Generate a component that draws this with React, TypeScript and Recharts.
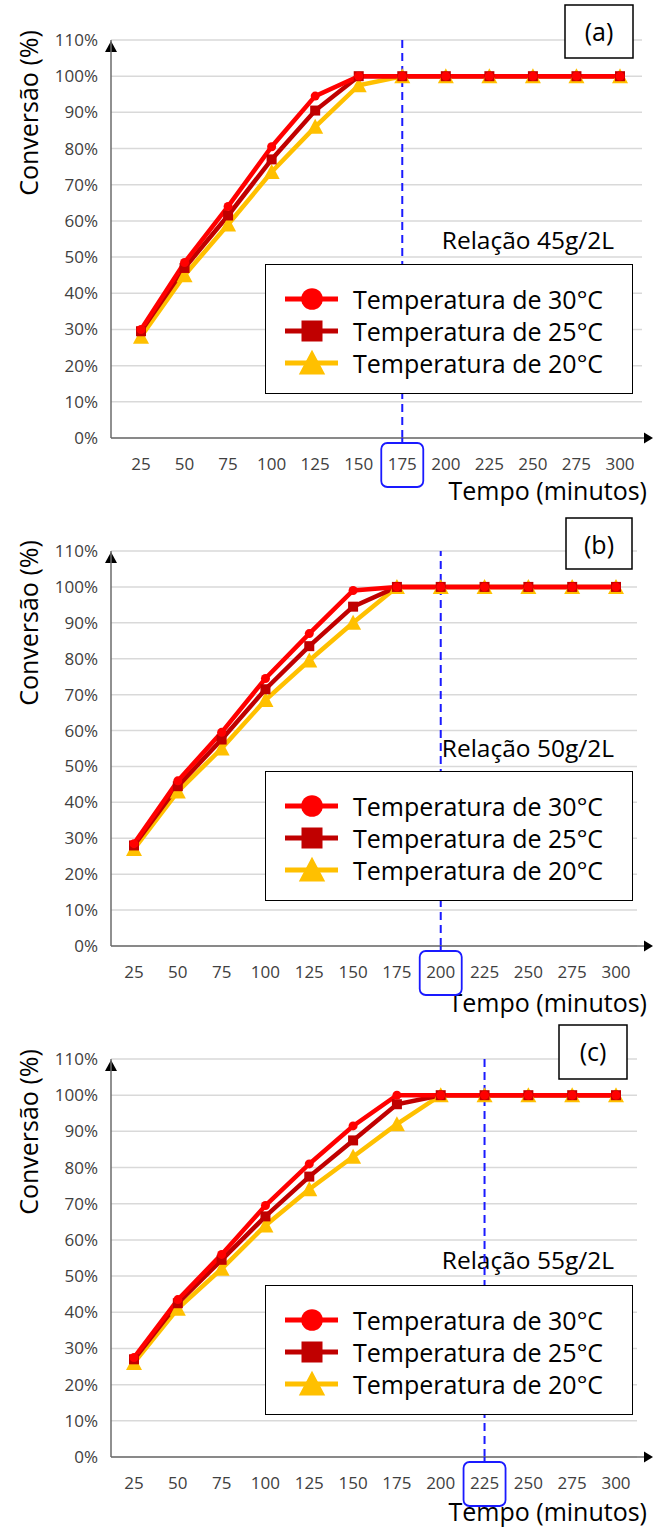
import {
  CartesianGrid,
  Customized,
  Legend,
  Line,
  LineChart,
  ReferenceLine,
  XAxis,
  YAxis,
} from "recharts";

const FONT = '"Open Sans", sans-serif';

// tempo (minutos)
const minutes = [25, 50, 75, 100, 125, 150, 175, 200, 225, 250, 275, 300];
const pctTicks = [0, 10, 20, 30, 40, 50, 60, 70, 80, 90, 100, 110];

// (a) relação 45g/2L
const a30 = [30, 48.5, 64, 80.5, 94.5, 100, 100, 100, 100, 100, 100, 100];
const a25 = [29.5, 47, 61.5, 77, 90.5, 100, 100, 100, 100, 100, 100, 100];
const a20 = [28, 45, 59, 73.5, 86, 97.5, 100, 100, 100, 100, 100, 100];

// (b) relação 50g/2L
const b30 = [28.5, 46, 59.5, 74.5, 87, 99, 100, 100, 100, 100, 100, 100];
const b25 = [28, 44.5, 57.5, 71.5, 83.5, 94.5, 100, 100, 100, 100, 100, 100];
const b20 = [27, 43, 55, 68.5, 79.5, 90, 100, 100, 100, 100, 100, 100];

// (c) relação 55g/2L
const c30 = [27.5, 43.5, 56, 69.5, 81, 91.5, 100, 100, 100, 100, 100, 100];
const c25 = [27, 42.5, 54.5, 66.5, 77.5, 87.5, 97.5, 100, 100, 100, 100, 100];
const c20 = [26, 41, 52, 64, 74, 83, 92, 100, 100, 100, 100, 100];

const RED = "#FF0000";
const DARK = "#C00000";
const GOLD = "#FFC000";
const BLUE = "#1a1aff";

const legendItems = [
  { name: "Temperatura de 30°C", color: RED, shape: "circle", s: 2.4 },
  { name: "Temperatura de 25°C", color: DARK, shape: "square", s: 2.1 },
  { name: "Temperatura de 20°C", color: GOLD, shape: "triangle", s: 1.65 },
];

const build = (s30: number[], s25: number[], s20: number[]) =>
  minutes.map((t, i) => ({ t, t30: s30[i], t25: s25[i], t20: s20[i] }));

const panels = [
  {
    tag: "(a)", ratio: "Relação 45g/2L", highlight: 175, data: build(a30, a25, a20),
    top: 0, mt: 40, xh: 71, right: 11, pad: { left: 30, right: 22 },
    box: { x: 565, y: 5, w: 68, h: 53 }, ratioY: 249, xTitleY: 500, legendTop: 264,
  },
  {
    tag: "(b)", ratio: "Relação 50g/2L", highlight: 200, data: build(b30, b25, b20),
    top: 510, mt: 41, xh: 73, right: 16, pad: { left: 23, right: 21 },
    box: { x: 566, y: 8, w: 66, h: 51 }, ratioY: 247, xTitleY: 502, legendTop: 261,
  },
  {
    tag: "(c)", ratio: "Relação 55g/2L", highlight: 225, data: build(c30, c25, c20),
    top: 1019, mt: 40, xh: 71, right: 16, pad: { left: 23, right: 21 },
    box: { x: 559, y: 6, w: 68, h: 54 }, ratioY: 250, xTitleY: 502, legendTop: 266,
  },
];

const Marker = ({ shape, cx, cy, s }: any) => {
  if (shape === "circle") return <circle cx={cx} cy={cy} r={4.5 * s} fill={RED} />;
  if (shape === "square")
    return <rect x={cx - 5 * s} y={cy - 5 * s} width={10 * s} height={10 * s} fill={DARK} />;
  return (
    <polygon
      points={`${cx},${cy - 8 * s} ${cx + 8 * s},${cy + 7 * s} ${cx - 8 * s},${cy + 7 * s}`}
      fill={GOLD}
    />
  );
};

const dotFor = (shape: string) => (p: any) => (
  <Marker key={`${shape}-${p.index}`} shape={shape} cx={p.cx} cy={p.cy} s={1} />
);

const XTick = (props: any) => {
  const { x, y, payload, highlight } = props;
  const hot = payload.value === highlight;
  return (
    <g>
      {hot && (
        <>
          <line x1={x} y1={y} x2={x} y2={y + 6} stroke={BLUE} strokeWidth={2} />
          <rect x={x - 21} y={y + 5} width={42} height={44} rx={6} fill="none" stroke={BLUE} strokeWidth={1.8} />
        </>
      )}
      <text x={x} y={y + 25} textAnchor="middle" dominantBaseline="central" fontSize={17} fill="#404040" fontFamily={FONT}>
        {payload.value}
      </text>
    </g>
  );
};

const LegendBox = () => (
  <div
    style={{
      width: 368, height: 130, boxSizing: "border-box", border: "1.5px solid #000",
      background: "#fff", paddingTop: 18, fontFamily: FONT, fontSize: 25, color: "#000",
    }}
  >
    {legendItems.map((it) => (
      <div key={it.name} style={{ display: "flex", alignItems: "center", height: 32 }}>
        <svg width={87} height={30} style={{ flex: "none" }}>
          <line x1={19} y1={15} x2={72} y2={15} stroke={it.color} strokeWidth={5} />
          <Marker shape={it.shape} cx={46} cy={15} s={it.s} />
        </svg>
        <span style={{ lineHeight: 1, whiteSpace: "nowrap" }}>{it.name}</span>
      </div>
    ))}
  </div>
);

const Decor = ({ p }: any) => {
  const left = 111;
  const top = p.mt;
  const bottom = 509 - p.xh;
  const right = 653 - p.right;
  return (
    <g fontFamily={FONT} fill="#000">
      <polygon points={`${left},${top + 1} ${left - 6},${top + 12} ${left + 6},${top + 12}`} fill="#000" />
      <line x1={right} y1={bottom} x2={647} y2={bottom} stroke="#6b6b6b" strokeWidth={1.5} />
      <polygon points={`653,${bottom} 644,${bottom - 5.5} 644,${bottom + 5.5}`} fill="#000" />
      <text x={28} y={113} transform="rotate(-90 28 113)" textAnchor="middle" dominantBaseline="central" fontSize={25}>
        Conversão (%)
      </text>
      <text x={647} y={p.xTitleY} textAnchor="end" fontSize={25}>
        Tempo (minutos)
      </text>
      <text x={614} y={p.ratioY} textAnchor="end" fontSize={24.5}>
        {p.ratio}
      </text>
      <rect x={p.box.x} y={p.box.y} width={p.box.w} height={p.box.h} fill="#fff" stroke="#000" strokeWidth={1.5} />
      <text x={p.box.x + p.box.w / 2} y={p.box.y + 36} textAnchor="middle" fontSize={25}>
        {p.tag}
      </text>
    </g>
  );
};

const Panel = ({ p }: any) => (
  <div style={{ position: "absolute", left: 0, top: p.top }}>
    <LineChart width={653} height={509} data={p.data} margin={{ top: p.mt, right: p.right, bottom: 0, left: 0 }}>
      <CartesianGrid vertical={false} stroke="#d9d9d9" strokeWidth={1.5} />
      <XAxis
        dataKey="t"
        scale="point"
        padding={p.pad}
        height={p.xh}
        interval={0}
        tickLine={false}
        tickSize={0}
        tickMargin={0}
        axisLine={{ stroke: "#6b6b6b", strokeWidth: 1.5 }}
        tick={<XTick highlight={p.highlight} />}
      />
      <YAxis
        type="number"
        domain={[0, 110]}
        ticks={pctTicks}
        interval={0}
        width={111}
        tickLine={false}
        tickSize={0}
        tickMargin={13}
        tickFormatter={(v: number) => `${v}%`}
        tick={{ fontSize: 17, fill: "#404040", fontFamily: FONT }}
        axisLine={{ stroke: "#6b6b6b", strokeWidth: 1.5 }}
      />
      <Line dataKey="t20" stroke={GOLD} strokeWidth={4.5} dot={dotFor("triangle")} isAnimationActive={false} />
      <Line dataKey="t25" stroke={DARK} strokeWidth={4.5} dot={dotFor("square")} isAnimationActive={false} />
      <Line dataKey="t30" stroke={RED} strokeWidth={4.5} dot={dotFor("circle")} isAnimationActive={false} />
      <ReferenceLine x={p.highlight} stroke={BLUE} strokeWidth={2} strokeDasharray="8 5" />
      <Customized component={<Decor p={p} />} />
      <Legend
        verticalAlign="middle"
        layout="horizontal"
        wrapperStyle={{ top: p.legendTop, left: 265, width: 368 }}
        content={() => <LegendBox />}
      />
    </LineChart>
  </div>
);

export default function App() {
  return (
    <div style={{ position: "relative", width: 653, height: 1527, background: "#fff" }}>
      <style>{"body{margin:0}"}</style>
      {panels.map((p) => (
        <Panel key={p.tag} p={p} />
      ))}
    </div>
  );
}
